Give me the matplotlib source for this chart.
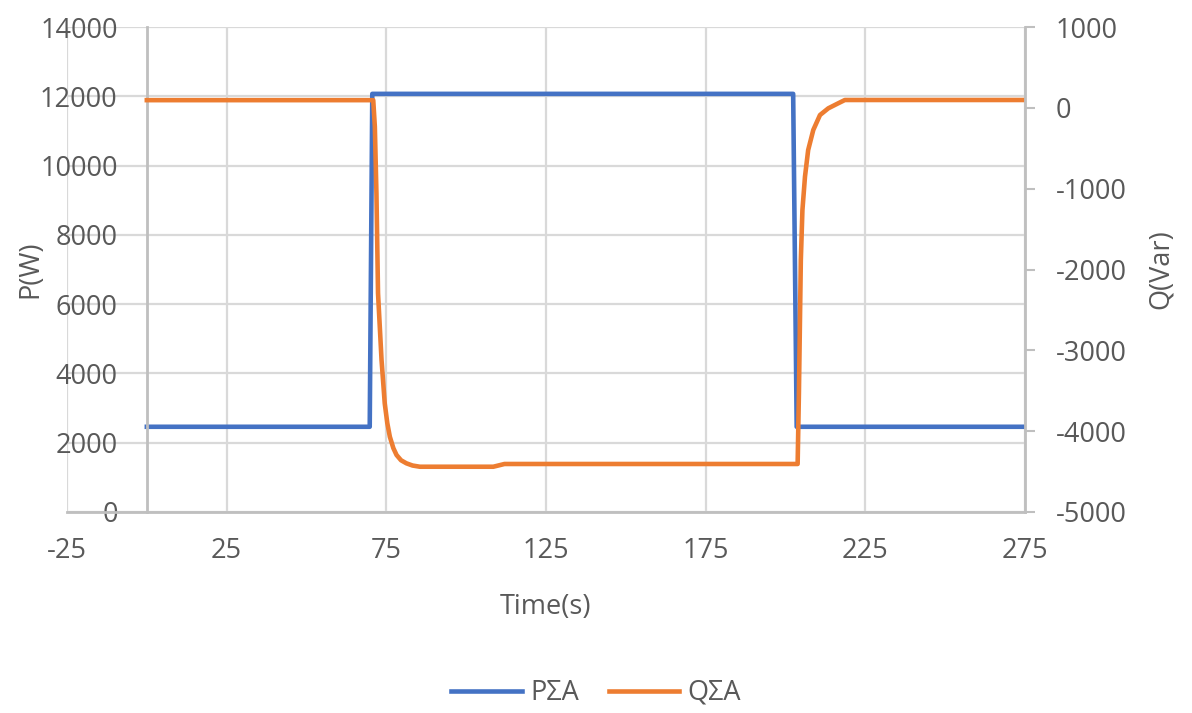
import matplotlib
matplotlib.use("Agg")
import matplotlib.pyplot as plt
import numpy as np

plt.rcParams["font.family"] = ["Open Sans", "DejaVu Sans"]
plt.rcParams["axes.unicode_minus"] = False

# Active power of phase sum (W) against time (s)
time_p = [0, 69.8, 70.6, 202.4, 203.5, 275]
p_sum = [2460, 2460, 12070, 12070, 2460, 2460]

# Reactive power of phase sum (Var) against time (s)
time_q = [0, 70.9, 71.4, 71.9, 72.4, 73.5, 74.5, 75.3, 76.1, 77.2, 78.2, 79.6,
          81.3, 83.2, 85.5, 108.5, 112.0, 203.8, 204.2, 204.5, 204.8, 205.3,
          206.1, 207.1, 208.7, 210.8, 213.4, 216.5, 218.6, 275]
q_sum = [95, 95, -233, -1058, -2295, -3120, -3656, -3900, -4069, -4210, -4295,
         -4360, -4398, -4425, -4440, -4440, -4406, -4406, -3532, -2708, -1883,
         -1264, -852, -522, -274, -89, -6, 56, 97, 97]

x_ticks = np.arange(-25, 276, 50)
p_ticks = np.arange(0, 14001, 2000)
q_ticks = np.arange(-5000, 1001, 1000)

BLUE = "#4472C4"
ORANGE = "#ED7D31"
GRID = "#d9d9d9"
AXIS = "#bfbfbf"
TEXT = "#595959"
FS = 19.5

W, H = 1192, 713
fig = plt.figure(figsize=(W / 100, H / 100), dpi=100)
ax = fig.add_axes([67 / W, 1 - 512 / H, 958 / W, 485 / H])
ax2 = ax.twinx()

ax.plot(time_p, p_sum, color=BLUE, lw=3.3, solid_joinstyle="round", label="PΣA")
ax2.plot(time_q, q_sum, color=ORANGE, lw=3.3, solid_joinstyle="round", label="QΣA")

ax.set_xlim(-25, 275)
ax.set_ylim(0, 14000)
ax2.set_ylim(-5000, 1000)
ax.set_xticks(x_ticks)
ax.set_yticks(p_ticks)
ax2.set_yticks(q_ticks)

ax.set_axisbelow(True)
ax.grid(True, color=GRID, lw=1.6)

# primary y axis crosses at t = 0
ax.spines["left"].set_position(("data", 0))
for side in ("left", "bottom"):
    ax.spines[side].set_color(AXIS)
    ax.spines[side].set_linewidth(2)
ax.spines["top"].set_visible(False)
ax.spines["right"].set_visible(False)
for side in ("left", "top", "bottom"):
    ax2.spines[side].set_visible(False)
ax2.spines["right"].set_color(AXIS)
ax2.spines["right"].set_linewidth(2)

ax.tick_params(axis="x", length=0, pad=18, labelsize=FS, labelcolor=TEXT)
ax.tick_params(axis="y", length=0, pad=21, labelsize=FS, labelcolor=TEXT)
ax2.tick_params(axis="y", direction="out", length=7.2, width=1.5, color=AXIS,
                pad=15, labelsize=FS, labelcolor=TEXT)

ax.set_xlabel("Time(s)", fontsize=FS, color=TEXT)
ax.xaxis.set_label_coords(0.5, -0.168)
ax.set_ylabel("P(W)", fontsize=FS, color=TEXT)
ax.yaxis.set_label_coords(-0.024, 0.5)
ax2.set_ylabel("Q(Var)", fontsize=FS, color=TEXT)
ax2.yaxis.set_label_coords(1.127, 0.5)

handles = ax.get_lines() + ax2.get_lines()
fig.legend(handles, [h.get_label() for h in handles], loc="center",
           bbox_to_anchor=(596 / W, 1 - 693 / H), ncol=2, frameon=False,
           fontsize=FS, labelcolor=TEXT, handlelength=2.6, handletextpad=0.3,
           columnspacing=1.1)

fig.savefig("out.png", dpi=100)
